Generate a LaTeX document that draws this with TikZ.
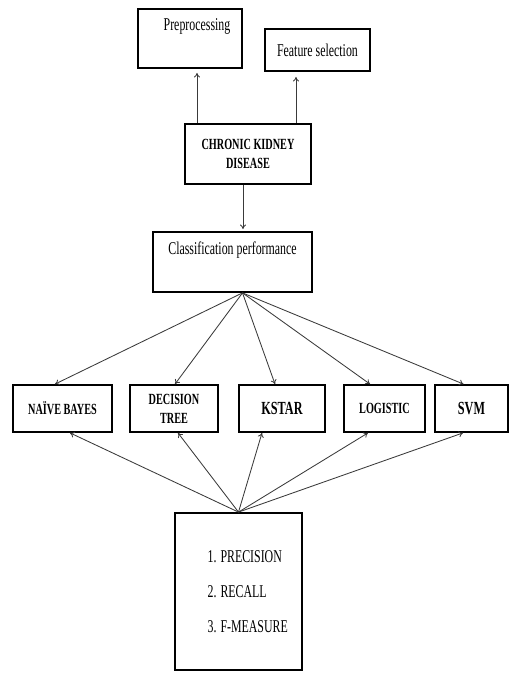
\documentclass[tikz,border=0pt]{standalone}
\usepackage{fontspec}
\setmainfont{Liberation Serif}[FakeStretch=0.66]
\usetikzlibrary{arrows.meta, positioning}
\definecolor{LinkGray}{HTML}{3A3A3A}

\tikzset{
  block/.style={draw=black, line width=1.8pt, inner sep=0pt},
  link/.style={draw=LinkGray, line width=0.85pt, -{To[length=4.5pt, width=6pt]}},
  plaintext/.style={font=\fontsize{18}{20}\selectfont},
  heading/.style={font=\bfseries\fontsize{15.5}{19}\selectfont, align=center},
  bigheading/.style={font=\bfseries\fontsize{18.5}{20}\selectfont},
}

\begin{document}
\begin{tikzpicture}[x=1pt, y=1pt]
  \useasboundingbox (0,0) rectangle (509,673);
  % Top boxes
  \node[block, minimum width=104pt, minimum height=59pt,
        label={[plaintext, anchor=center, xshift=7pt, yshift=-18pt]north:Preprocessing}] (pre) at (190, 634.5) {};
  \node[block, plaintext, minimum width=105pt, minimum height=42pt] (feat) at (317.5, 623) {Feature selection};
  % Dataset
  \node[block, heading, minimum width=126pt, minimum height=60pt] (ckd) at (248, 519) {CHRONIC KIDNEY\\DISEASE};
  \node[block, minimum width=159pt, minimum height=60pt,
        label={[plaintext, anchor=center, yshift=-19pt]north:Classification performance}] (cls) at (232.5, 411) {};
  % Classifiers
  \node[block, heading, minimum width=99pt, minimum height=47pt] (nb) at (62.5, 264.5) {NAÏVE BAYES};
  \node[block, heading, minimum width=88pt, minimum height=47pt] (dt) at (174, 264.5) {DECISION\\TREE};
  \node[block, bigheading, minimum width=86pt, minimum height=47pt] (ks) at (282, 264.5) {KSTAR};
  \node[block, heading, minimum width=81pt, minimum height=47pt] (lg) at (384.5, 264.5) {LOGISTIC};
  \node[block, bigheading, minimum width=73pt, minimum height=47pt] (svm) at (471.5, 264.5) {SVM};
  % Measures
  \node[block, minimum width=127pt, minimum height=157pt,
        label={[plaintext, anchor=west, xshift=30pt, align=left]west:{1. PRECISION\\[15pt]2. RECALL\\[15pt]3. F-MEASURE}}] (met) at (238.5, 81.5) {};

  % Arrows up from the dataset
  \draw[link, shorten >=4pt] ([xshift=-51pt]ckd.north) -- ([xshift=-51pt]ckd.north |- pre.south);
  \draw[link, shorten >=5pt] ([xshift=48pt]ckd.north) -- ([xshift=48pt]ckd.north |- feat.south);
  \draw[link, shorten >=2pt] ([xshift=-5pt]ckd.south) -- ([xshift=-5pt]ckd.south |- cls.north);
  % Fan out to the classifiers
  \coordinate (fan) at ([xshift=10pt]cls.south);
  \foreach \t/\dx in {nb/-7.5, dt/1, ks/-7, lg/-14.5, svm/-8}
    \draw[link] (fan) -- ([xshift=\dx pt]\t.north);
  % Measures back to the classifiers
  \foreach \t/\dx in {nb/7.5, dt/4, ks/-20, lg/-16.5, svm/-8.5}
    \draw[link] (met.north) -- ([xshift=\dx pt]\t.south);
\end{tikzpicture}
\end{document}
